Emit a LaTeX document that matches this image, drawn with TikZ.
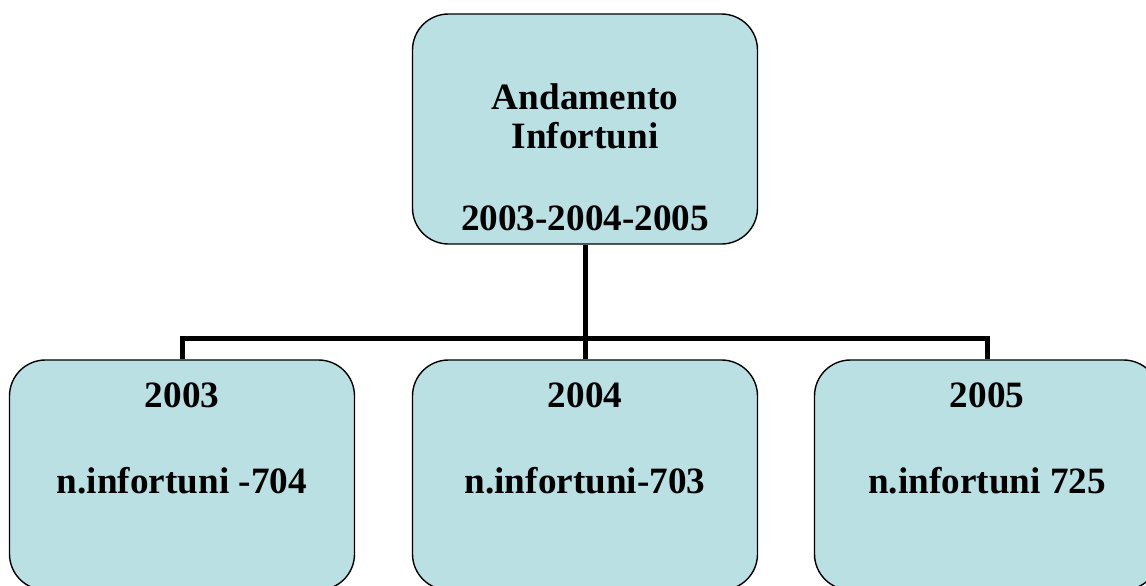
\documentclass[tikz,border=0pt]{standalone}
\usepackage{fontspec}
\setmainfont{Liberation Serif}
\definecolor{boxblue}{RGB}{186,224,228}

\begin{document}
\begin{tikzpicture}[x=1pt, y=-1pt]
	\tikzstyle{box} = [draw=black, line width=1.4pt, fill=boxblue, rounded corners=36pt, minimum width=345pt, minimum height=230pt, inner sep=0pt]
	\tikzstyle{txt} = [inner sep=0pt, anchor=base, font=\fontsize{37.2}{40}\selectfont\bfseries]
	\tikzstyle{conn} = [line width=5pt, draw=black]
	\useasboundingbox (0,0) rectangle (1146,586);
	% boxes
	\coordinate (fork) at (585,338);
	\node (Top) at (585,129) [box] {};
	\node (N2003) at (182,475) [box] {};
	\node (N2004) at (585,475) [box] {};
	\node (N2005) at (987,475) [box] {};
	% tree lines
	\draw [conn] (Top.south)--(fork);
	\draw [conn] (N2003.north) |- (fork) -| (N2005.north);
	\draw [conn] (fork)--(N2004.north);
	% labels
	\node (tA) at (585,110) [txt] {Andamento};
	\node (tB) at (585,148) [txt] {Infortuni};
	\node (tC) at (585,230) [txt] {2003-2004-2005};
	\node (y3) at (182,407) [txt] {2003};
	\node (v3) at (182,493) [txt] {n.infortuni -704};
	\node (y4) at (585,407) [txt] {2004};
	\node (v4) at (585,493) [txt] {n.infortuni-703};
	\node (y5) at (987,407) [txt] {2005};
	\node (v5) at (987,493) [txt] {n.infortuni 725};
\end{tikzpicture}
\end{document}
